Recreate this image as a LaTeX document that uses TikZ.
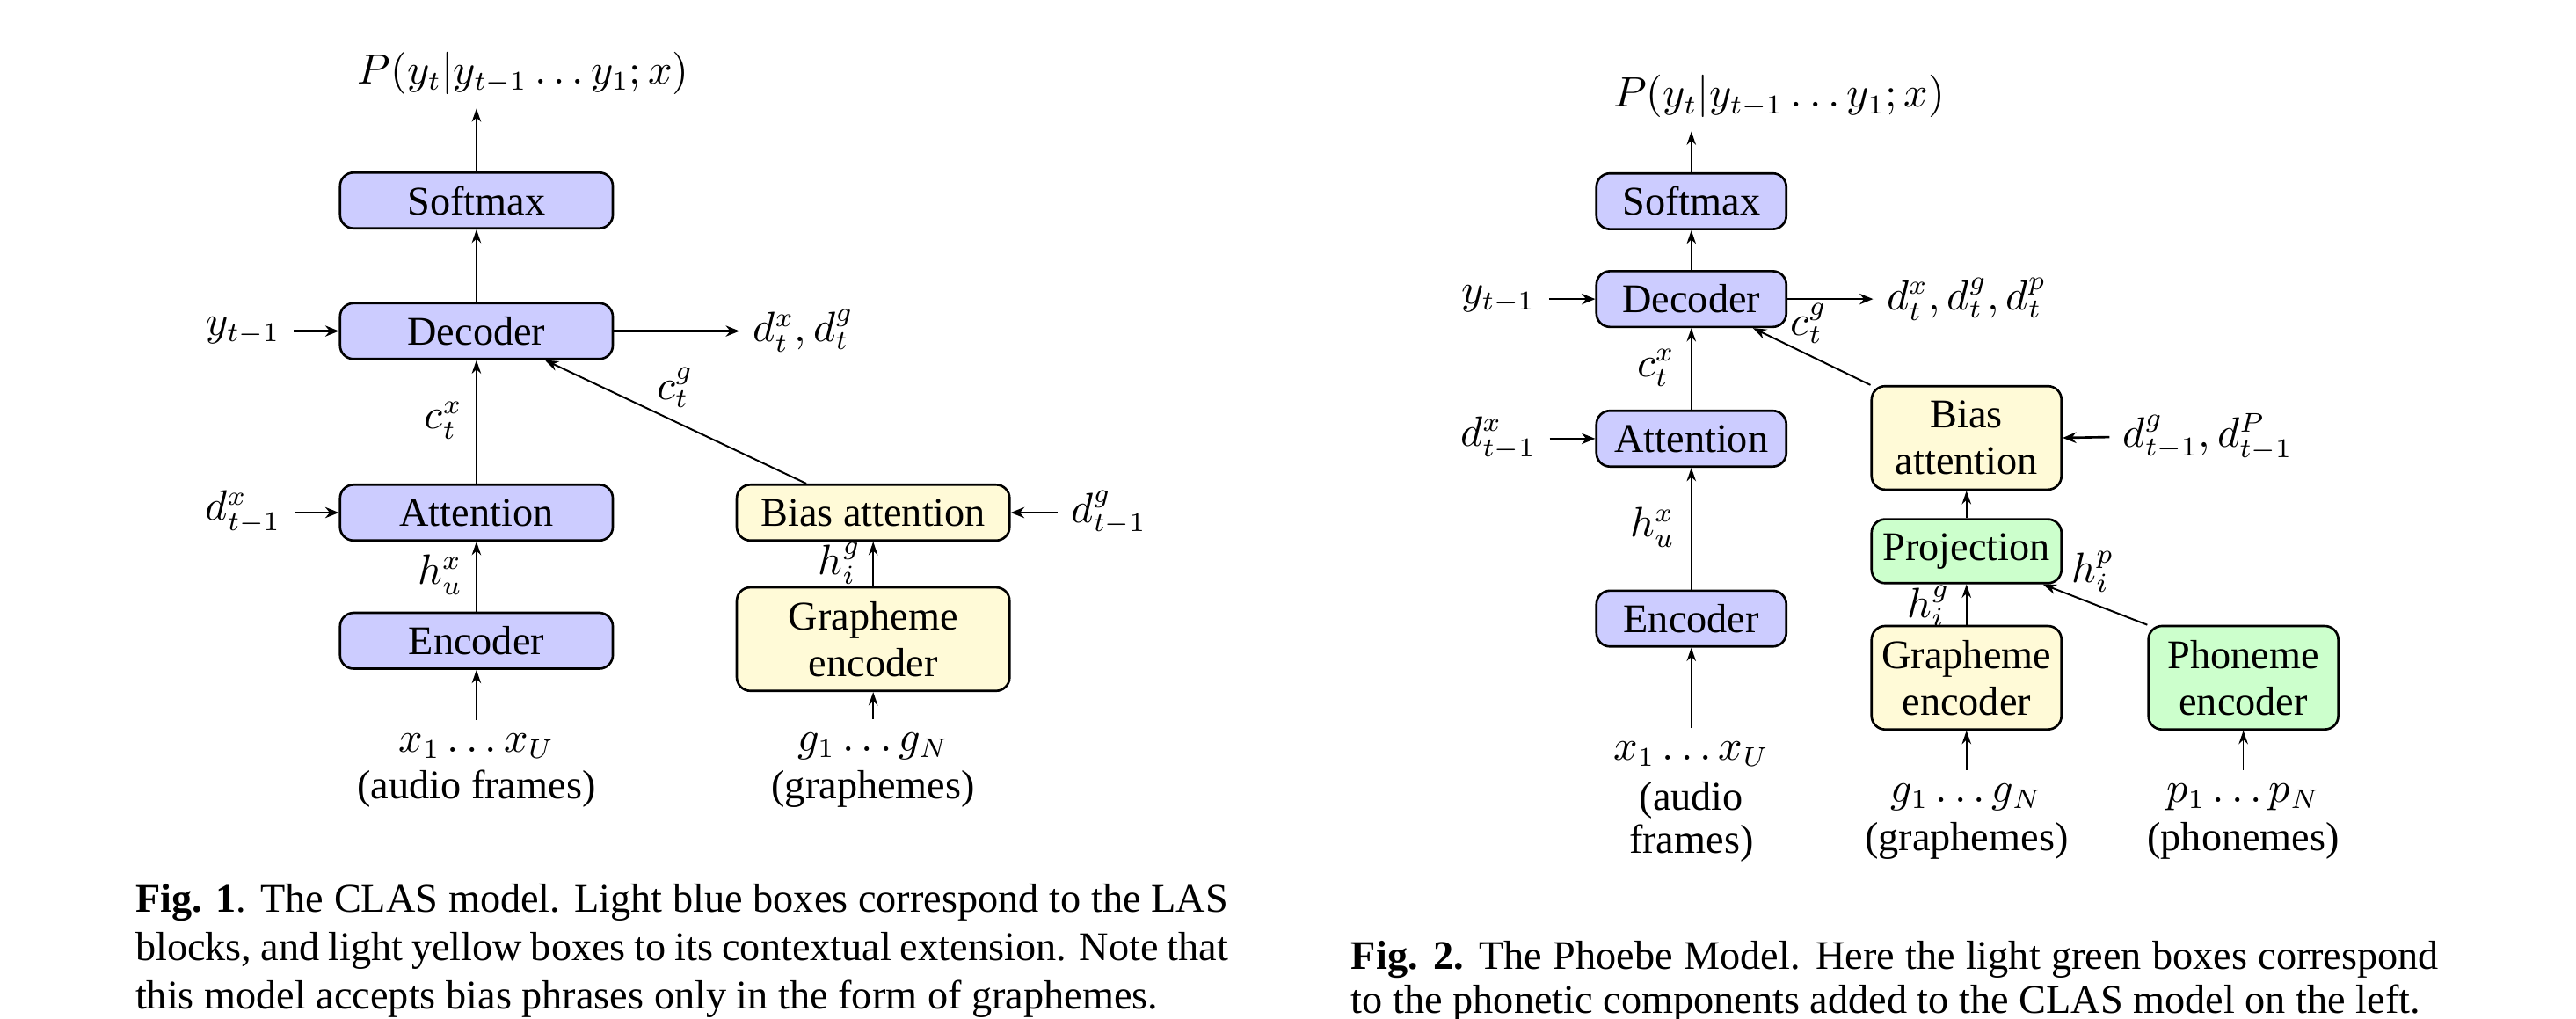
\documentclass[tikz,border=0pt]{standalone}
\usepackage{fontspec}
\setmainfont{Liberation Serif}
\usetikzlibrary{arrows.meta,calc}
\definecolor{boxblue}{RGB}{204,204,255}
\definecolor{boxyellow}{RGB}{255,250,215}
\definecolor{boxgreen}{RGB}{204,255,204}
\begin{document}
\begin{tikzpicture}[x=0.424pt,y=-0.424pt,
  font=\fontsize{10.5}{12}\selectfont,
  blk/.style={draw=black, line width=0.6pt, rounded corners=3.5pt, inner sep=0pt, align=center},
  bluebox/.style={blk, fill=boxblue},
  yellowbox/.style={blk, fill=boxyellow},
  greenbox/.style={blk, fill=boxgreen},
  wideL/.style={minimum width=70.4pt, minimum height=14.4pt},
  wideR/.style={minimum width=49pt, minimum height=14.4pt},
  twoline/.style={minimum height=26.7pt},
  flow/.style={-{Stealth[length=3.5pt,width=2.4pt]}, line width=0.35pt},
  side/.style={-{Stealth[length=3.5pt,width=2.8pt]}, line width=0.6pt},
  diag/.style={-{Stealth[length=3.5pt,width=2.6pt]}, line width=0.45pt},
  captionline/.style={anchor=base west, inner sep=0pt, font=\fontsize{10.5}{12}\selectfont},
]
\clip (0,0) rectangle (1568,620);
\fill[white] (0,0) rectangle (1568,620);

% ---------------- Figure 1 ----------------
\node[bluebox, wideL] (soft1) at (290,122) {Softmax};
\node[bluebox, wideL] (dec1) at (290,201.5) {Decoder};
\node[bluebox, wideL] (att1) at (290,312) {Attention};
\node[bluebox, wideL] (enc1) at (290,390) {Encoder};
\node[yellowbox, wideL] (bias1) at (531.5,312) {Bias attention};
\node[yellowbox, wideL, twoline] (gra1) at (531.5,389) {Grapheme\\encoder};

\node[anchor=south] (p1) at (318.5,66) {$P(y_t|y_{t-1}\ldots y_1;x)$};
\node (y1) at (148,201.5) {$y_{t-1}$};
\node (do1) at (489,201.5) {$d_t^x, d_t^g$};
\node (dx1) at (148,312) {$d^x_{t-1}$};
\node (dg1) at (675,312) {$d^g_{t-1}$};
\node (cx1) at (270,256) {$c_t^x$};
\node (cg1) at (411,236) {$c_t^g$};
\node (hu1) at (268,350) {$h_u^x$};
\node (hg1) at (511,343) {$h_i^g$};
\node (xs1) at (290,454) {$x_1\ldots x_U$};
\node (af1) at (290,480) {(audio frames)};
\node (gs1) at (531.5,454) {$g_1\ldots g_N$};
\node (gr1) at (531.5,480) {(graphemes)};

\draw[flow] (soft1.north) -- (soft1.north |- p1.south);
\draw[flow] (dec1) -- (soft1);
\draw[flow] (att1) -- (dec1);
\draw[flow] (enc1) -- (att1);
\draw[flow] (xs1.north) -- (enc1.south);
\draw[flow] (gra1) -- (bias1);
\draw[flow] (gs1.north) -- (gra1.south);
\draw[side] (y1.east) -- (dec1.west);
\draw[side] (dec1.east) -- (do1.west);
\draw[side] (dx1.east) -- (att1.west);
\draw[side] (dg1.west) -- (bias1.east);
\draw[diag] ($(bias1.north west)+(43,0)$) -- ($(dec1.south east)+(-42,0)$);

% ---------------- Figure 2 ----------------
\node[bluebox, wideR] (soft2) at (1029.5,122.5) {Softmax};
\node[bluebox, wideR] (dec2) at (1029.5,182) {Decoder};
\node[bluebox, wideR] (att2) at (1029.5,267) {Attention};
\node[bluebox, wideR] (enc2) at (1029.5,376.5) {Encoder};
\node[yellowbox, wideR, twoline] (bias2) at (1197,266.5) {Bias\\attention};
\node[greenbox, wideR, minimum height=16.5pt] (proj2) at (1197,335.5) {Projection};
\node[yellowbox, wideR, twoline] (gra2) at (1197,412.5) {Grapheme\\encoder};
\node[greenbox, wideR, twoline] (pho2) at (1365.5,412.5) {Phoneme\\encoder};

\node[anchor=south] (p2) at (1083,80) {$P(y_t|y_{t-1}\ldots y_1;x)$};
\node (y2) at (912,182) {$y_{t-1}$};
\node (do2) at (1197,182) {$d_t^x, d_t^g, d_t^p$};
\node (cg2) at (1101,197) {$c_t^g$};
\node (cx2) at (1008,224) {$c_t^x$};
\node (dx2) at (912,267) {$d^x_{t-1}$};
\node (dgp2) at (1344,266) {$d^g_{t-1}, d^P_{t-1}$};
\node (hu2) at (1006,321) {$h_u^x$};
\node (hg2) at (1174,369) {$h_i^g$};
\node (hp2) at (1274,348) {$h_i^p$};
\node (xs2) at (1029.5,459) {$x_1\ldots x_U$};
\node (af2a) at (1029.5,487) {(audio};
\node (af2b) at (1029.5,513) {frames)};
\node (gs2) at (1197,485) {$g_1\ldots g_N$};
\node (gr2) at (1197,512) {(graphemes)};
\node (ps2) at (1365.5,485) {$p_1\ldots p_N$};
\node (ph2) at (1365.5,512) {(phonemes)};

\draw[flow] (soft2.north) -- (soft2.north |- p2.south);
\draw[flow] (dec2) -- (soft2);
\draw[flow] (att2) -- (dec2);
\draw[flow] (enc2) -- (att2);
\draw[flow] (xs2.north) -- (enc2.south);
\draw[flow] (proj2) -- (bias2);
\draw[flow] (gra2) -- (proj2);
\draw[flow] (gs2.north) -- (gra2.south);
\draw[flow] (ps2.north) -- (pho2.south);
\draw[side] (y2.east) -- (dec2.west);
\draw[side] (dec2.east) -- (do2.west);
\draw[side] (dx2.east) -- (att2.west);
\draw[side] (dgp2.west) -- (bias2.east);
\draw[diag] (bias2.north west) -- ($(dec2.south east)+(-21,0)$);
\draw[diag] (pho2.north west) -- ($(proj2.south east)+(-12,0)$);

% ---------------- Captions ----------------
\node[captionline] (c1a) at (82,555) {\makebox[282pt][s]{\textbf{Fig. 1}. The CLAS model. Light blue boxes correspond to the LAS}};
\node[captionline] (c1b) at (82,584.5) {\makebox[282pt][s]{blocks, and light yellow boxes to its contextual extension. Note that}};
\node[captionline] (c1c) at (82,614) {this model accepts bias phrases only in the form of graphemes.};
\node[captionline] (c2a) at (822,590) {\makebox[280.7pt][s]{\textbf{Fig. 2.} The Phoebe Model. Here the light green boxes correspond}};
\node[captionline] (c2b) at (822,617) {to the phonetic components added to the CLAS model on the left.};
\end{tikzpicture}
\end{document}
